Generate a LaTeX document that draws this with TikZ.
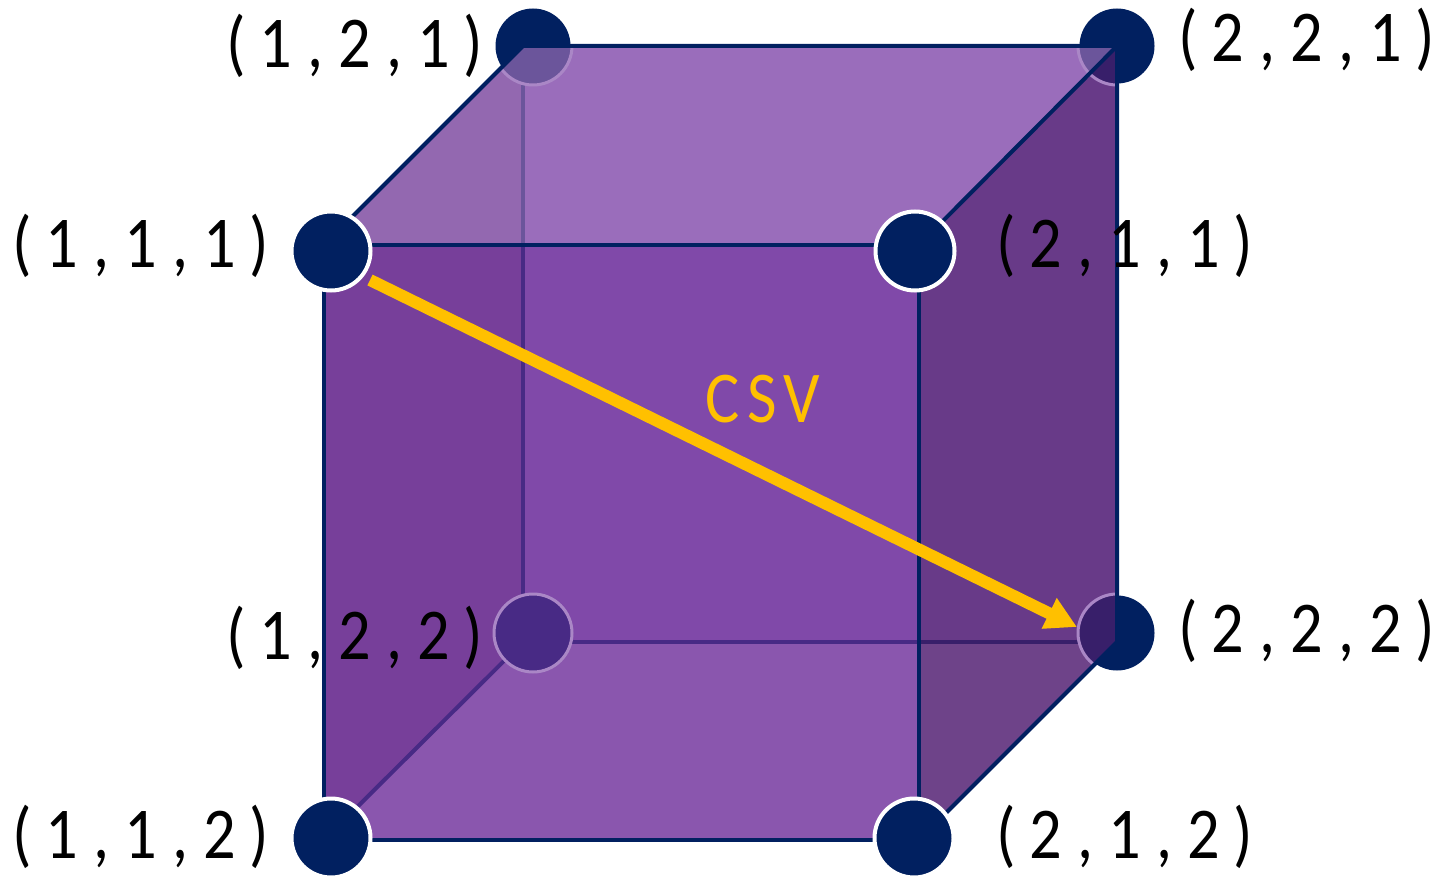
\documentclass[tikz,border=0pt]{standalone}
\usepackage{fontspec}
\setmainfont{Carlito}[FakeStretch=0.88]
\usetikzlibrary{arrows.meta}
\definecolor{navy}{HTML}{012060}
\definecolor{amber}{HTML}{FFC000}
\definecolor{seenTop}{HTML}{6B559B}
\definecolor{seenFront}{HTML}{482A85}
\definecolor{seenRight}{HTML}{381F6A}
\newcommand{\gl}[1]{\makebox[39.5pt][c]{#1}}
\newcommand{\triple}[3]{\gl{(}\gl{#1}\gl{,}\gl{#2}\gl{,}\gl{#3}\gl{)}}
\tikzset{
  dot/.style={circle,fill=navy,draw=none,inner sep=0pt,minimum size=75pt},
  frontdot/.style={circle,fill=navy,draw=white,line width=4pt,inner sep=0pt,minimum size=79pt},
  ring/.style={draw={rgb,255:red,170;green,135;blue,198},line width=3pt},
  edge/.style={draw=navy,line width=4pt,line join=round},
  backedge/.style={line width=4pt},
  lab/.style={anchor=base,inner sep=0pt,font=\fontsize{73}{73}\selectfont}
}
\begin{document}
\begin{tikzpicture}[x=1pt,y=-1pt]
\useasboundingbox[fill=white] (0,0) rectangle (1439,877);
% corners of the cube
\coordinate (ftl) at (324,245);
\coordinate (ftr) at (919,245);
\coordinate (fbl) at (324,840);
\coordinate (fbr) at (919,840);
\coordinate (btl) at (523,46);
\coordinate (btr) at (1117,46);
\coordinate (bbl) at (523,642);
\coordinate (bbr) at (1117,642);
\coordinate (tm) at (523,245);
\coordinate (bm) at (919,642);
% back dots
\node[dot] (d121) at (533,46) {};
\node[dot] (d221) at (1117,46) {};
\node[dot] (d122) at (533,633) {};
\node[dot] (d222) at (1117,633) {};
% faces
\fill[fill={rgb,255:red,147;green,104;blue,176}] (ftl) -- (btl) -- (tm) -- cycle;
\fill[fill={rgb,255:red,154;green,109;blue,187}] (btl) -- (btr) -- (ftr) -- (tm) -- cycle;
\fill[fill={rgb,255:red,119;green,63;blue,154}] (ftl) -- (tm) -- (bbl) -- (fbl) -- cycle;
\fill[fill={rgb,255:red,128;green,73;blue,169}] (tm) -- (ftr) -- (bm) -- (bbl) -- cycle;
\fill[fill={rgb,255:red,104;green,58;blue,136}] (ftr) -- (btr) -- (bbr) -- (bm) -- cycle;
\fill[fill={rgb,255:red,138;green,86;blue,174}] (bbl) -- (bm) -- (fbr) -- (fbl) -- cycle;
\fill[fill={rgb,255:red,110;green,67;blue,137}] (bm) -- (bbr) -- (fbr) -- cycle;
% back edges seen through the faces
\draw[backedge,seenTop] (btl) -- (tm);
\draw[backedge,seenFront] (tm) -- (bbl) -- (bm);
\draw[backedge,seenFront] (bbl) -- (fbl);
\draw[backedge,seenRight] (bm) -- (bbr);
% back dots seen through the faces, with their rings
\begin{scope}
\clip (ftl) -- (btl) -- (btr) -- (ftr) -- cycle;
\fill[seenTop] (d121) circle (38pt);
\fill[seenTop] (d221) circle (38pt);
\draw[ring] (d121) circle (39pt);
\draw[ring] (d221) circle (39pt);
\end{scope}
\begin{scope}
\clip (ftr) -- (btr) -- (bbr) -- (fbr) -- cycle;
\fill[seenRight] (d221) circle (38pt);
\fill[seenRight] (d222) circle (38pt);
\draw[ring] (d221) circle (39pt);
\draw[ring] (d222) circle (39pt);
\end{scope}
\fill[seenFront] (d122) circle (38pt);
\draw[ring] (d122) circle (39pt);
% front edges
\draw[edge] (fbl) -- (ftl) -- (ftr) -- (fbr) -- cycle;
\draw[edge] (ftl) -- (btl) -- (btr) -- (ftr);
\draw[edge] (btr) -- (bbr) -- (fbr);
% front dots
\node[frontdot] (d111) at (331,251) {};
\node[frontdot] (d211) at (915,251) {};
\node[frontdot] (d112) at (331,838) {};
\node[frontdot] (d212) at (914,838) {};
% arrow
\coordinate (astart) at (370,280);
\coordinate (aend) at (1077,627);
\draw[amber,line width=12pt,-{Triangle[length=31pt,width=32pt]}] (astart) -- (aend);
\node[lab,text=amber] (csv) at (762,422) {\gl{C}\gl{S}\gl{V}};
% labels
\node[lab] (l121) at (355,68) {\triple{1}{2}{1}};
\node[lab] (l221) at (1307,62) {\triple{2}{2}{1}};
\node[lab] (l111) at (141,268) {\triple{1}{1}{1}};
\node[lab] (l211) at (1125,268) {\triple{2}{1}{1}};
\node[lab] (l122) at (355,659) {\triple{1}{2}{2}};
\node[lab] (l222) at (1307,652) {\triple{2}{2}{2}};
\node[lab] (l112) at (141,858) {\triple{1}{1}{2}};
\node[lab] (l212) at (1125,858) {\triple{2}{1}{2}};
\end{tikzpicture}
\end{document}
